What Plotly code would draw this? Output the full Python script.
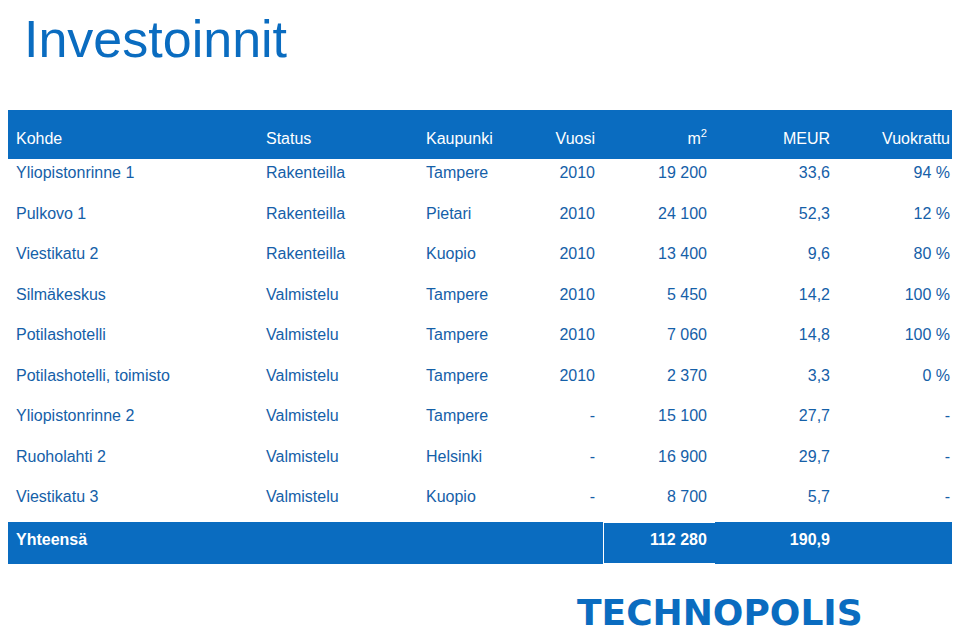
import plotly.graph_objects as go

headers = ["Kohde", "Status", "Kaupunki", "Vuosi", "m<sup>2</sup>", "MEUR", "Vuokrattu"]
kohde = ["Yliopistonrinne 1", "Pulkovo 1", "Viestikatu 2", "Silmäkeskus", "Potilashotelli",
         "Potilashotelli, toimisto", "Yliopistonrinne 2", "Ruoholahti 2", "Viestikatu 3", "<b>Yhteensä</b>"]
status = ["Rakenteilla"] * 3 + ["Valmistelu"] * 6 + [""]
kaupunki = ["Tampere", "Pietari", "Kuopio", "Tampere", "Tampere", "Tampere", "Tampere", "Helsinki", "Kuopio", ""]
vuosi = ["2010"] * 6 + ["-"] * 3 + [""]
m2 = ["19 200", "24 100", "13 400", "5 450", "7 060", "2 370", "15 100", "16 900", "8 700", "<b>112 280</b>"]
meur = ["33,6", "52,3", "9,6", "14,2", "14,8", "3,3", "27,7", "29,7", "5,7", "<b>190,9</b>"]
vuokrattu = ["94 %", "12 %", "80 %", "100 %", "100 %", "0 %", "-", "-", "-", ""]

BLUE = "#0a6cc0"
TXT = "#1560a8"
n = len(kohde)
fill_col = ["white"] * (n - 1) + [BLUE]
font_col = [TXT] * (n - 1) + ["white"]
line_cols = []
for i in range(7):
    c = ["white"] * (n - 1) + [("white" if i == 4 else BLUE)]
    line_cols.append(c)

fig = go.Figure(go.Table(
    domain=dict(x=[0, 950/960], y=[1 - 556/639, 1 - 102/639]),
    columnwidth=[250, 160, 125, 60, 112, 123, 120],
    header=dict(values=["<span style='font-size:6px'>&nbsp;</span><br>" + h for h in headers],
                fill_color=BLUE, line_color=BLUE, height=48,
                font=dict(color="white", size=16, family="Liberation Sans"),
                align=["left", "left", "left", "right", "right", "right", "right"]),
    cells=dict(values=[kohde, status, kaupunki, vuosi, m2, meur, vuokrattu],
               fill_color=[fill_col] * 7, line_color=line_cols, height=40.5,
               font=dict(color=[font_col] * 7, size=16, family="Liberation Sans"),
               align=["left", "left", "left", "right", "right", "right", "right"]),
))
fig.add_annotation(text="Investoinnit", x=14/960, y=1 - 0/639, xref="paper", yref="paper",
                   xanchor="left", yanchor="top", showarrow=False,
                   font=dict(size=52, color=BLUE, family="Liberation Sans"))
fig.add_annotation(text="<b>TECHNOPOLIS</b>", x=857/960, y=1 - 582/639, xref="paper", yref="paper",
                   xanchor="right", yanchor="top", showarrow=False,
                   font=dict(size=36, color=BLUE, family="DejaVu Sans"))
fig.update_layout(width=960, height=639, margin=dict(l=0, r=0, t=0, b=0),
                  paper_bgcolor="white", plot_bgcolor="white")
fig.write_html("out.html")
